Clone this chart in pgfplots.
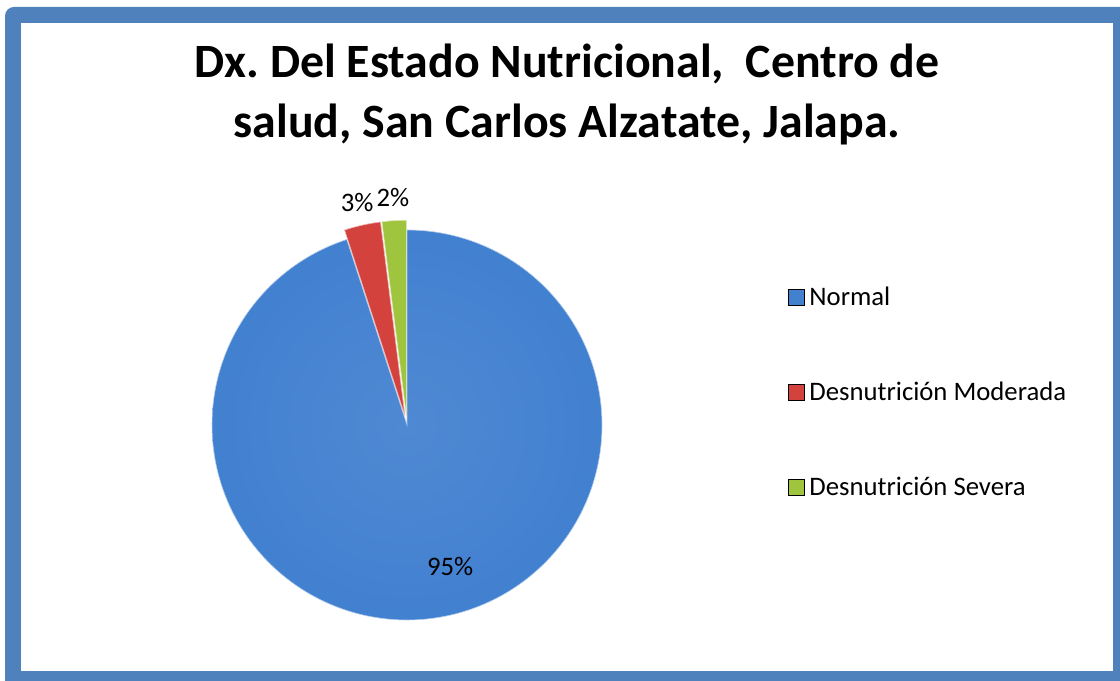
\documentclass[border=0pt]{standalone}
\usepackage{pgfplots}
\pgfplotsset{compat=1.18}
\usepackage{pgfplotstable}
\usepackage{fontspec}
\setmainfont{Carlito}
\frenchspacing
\definecolor{frame}{HTML}{4F81BD}
\definecolor{pieblue}{HTML}{4280D0}
\definecolor{piebluedark}{HTML}{2C5C9F}
\definecolor{piered}{HTML}{D4423E}
\definecolor{piegreen}{HTML}{9FC43E}
\pgfdeclareradialshading{blueshade}{\pgfpoint{0bp}{0bp}}{color(0bp)=(pieblue!93!white); color(25bp)=(pieblue); color(47bp)=(pieblue); color(50bp)=(piebluedark)}

\pgfplotstableread{
label pct
Normal 95
Moderada 3
Severa 2
}\piedata
\pgfplotstablegetelem{0}{pct}\of\piedata \let\vA\pgfplotsretval
\pgfplotstablegetelem{1}{pct}\of\piedata \let\vB\pgfplotsretval
\pgfplotstablegetelem{2}{pct}\of\piedata \let\vC\pgfplotsretval
\pgfmathsetmacro\aS{90-3.6*\vA}
\pgfmathsetmacro\rS{450-3.6*(\vA+\vB)}
\pgfmathsetmacro\rE{450-3.6*\vA}
\pgfmathsetmacro\gS{450-3.6*(\vA+\vB+\vC)}
\pgfmathsetmacro\gE{\rS}
\pgfmathsetmacro\rdx{0.05*cos((\rS+\rE)/2)}
\pgfmathsetmacro\rdy{0.05*sin((\rS+\rE)/2)}
\pgfmathsetmacro\gdx{0.05*cos((\gS+\gE)/2)}
\pgfmathsetmacro\gdy{0.05*sin((\gS+\gE)/2)}

\begin{document}%
\begin{tikzpicture}[x=1bp,y=1bp]
\fill[frame, rounded corners=9bp] (5,-20) rectangle (1140,674);
\fill[white] (21,10) rectangle (1113,658);
\node[anchor=base, font=\fontsize{48}{54}\selectfont\bfseries] at (567,603) {Dx. Del Estado Nutricional,~ Centro de};
\node[anchor=base, font=\fontsize{48}{54}\selectfont\bfseries] at (567,543) {salud, San Carlos Alzatate, Jalapa.};
\begin{axis}[
  scale only axis, width=390bp, height=390bp,
  xmin=-1, xmax=1, ymin=-1, ymax=1,
  hide axis, clip=false,
  at={(407bp,256bp)}, anchor=center,
  legend cell align=left,
  legend image code/.code={\fill[#1] (0bp,-8bp) rectangle (16bp,8bp); \path[draw=none,fill=none] (0bp,0bp) rectangle (19bp,0.1bp);},
  legend style={at={(axis description cs:1.477,0.86)}, anchor=north west,
    draw=none, fill=none, font=\fontsize{26.8}{31}\selectfont,
    row sep=71bp, inner sep=0pt, nodes={inner sep=2bp}},
]
\addplot[forget plot, shade, shading=blueshade, draw=white!60!pieblue, line width=0.6bp,
  variable=\t, domain=\aS:90, samples=200] ({cos(\t)},{sin(\t)}) -- (axis cs:0,0) -- cycle;
\addplot[forget plot, fill=piered, draw=white!60!piered, line width=0.6bp,
  variable=\t, domain=\rS:\rE, samples=20] ({\rdx+cos(\t)},{\rdy+sin(\t)}) -- (axis cs:\rdx,\rdy) -- cycle;
\addplot[forget plot, fill=piegreen, draw=white!60!piegreen, line width=0.6bp,
  variable=\t, domain=\gS:\gE, samples=20] ({\gdx+cos(\t)},{\gdy+sin(\t)}) -- (axis cs:\gdx,\gdy) -- cycle;
\addlegendimage{fill=pieblue}
\addlegendentry{Normal}
\addlegendimage{fill=piered}
\addlegendentry{Desnutrición Moderada}
\addlegendimage{fill=piegreen}
\addlegendentry{Desnutrición Severa}
\node[anchor=base, font=\fontsize{26.8}{31}\selectfont] at (axis cs:-0.256,1.097) {3\%};
\node[anchor=base, font=\fontsize{26.8}{31}\selectfont] at (axis cs:-0.072,1.118) {2\%};
\node[anchor=base, font=\fontsize{26.8}{31}\selectfont] at (axis cs:0.221,-0.774) {95\%};
\end{axis}
\pgfresetboundingbox
\path[use as bounding box] (0,0) rectangle (1120,681);
\end{tikzpicture}%
\end{document}
